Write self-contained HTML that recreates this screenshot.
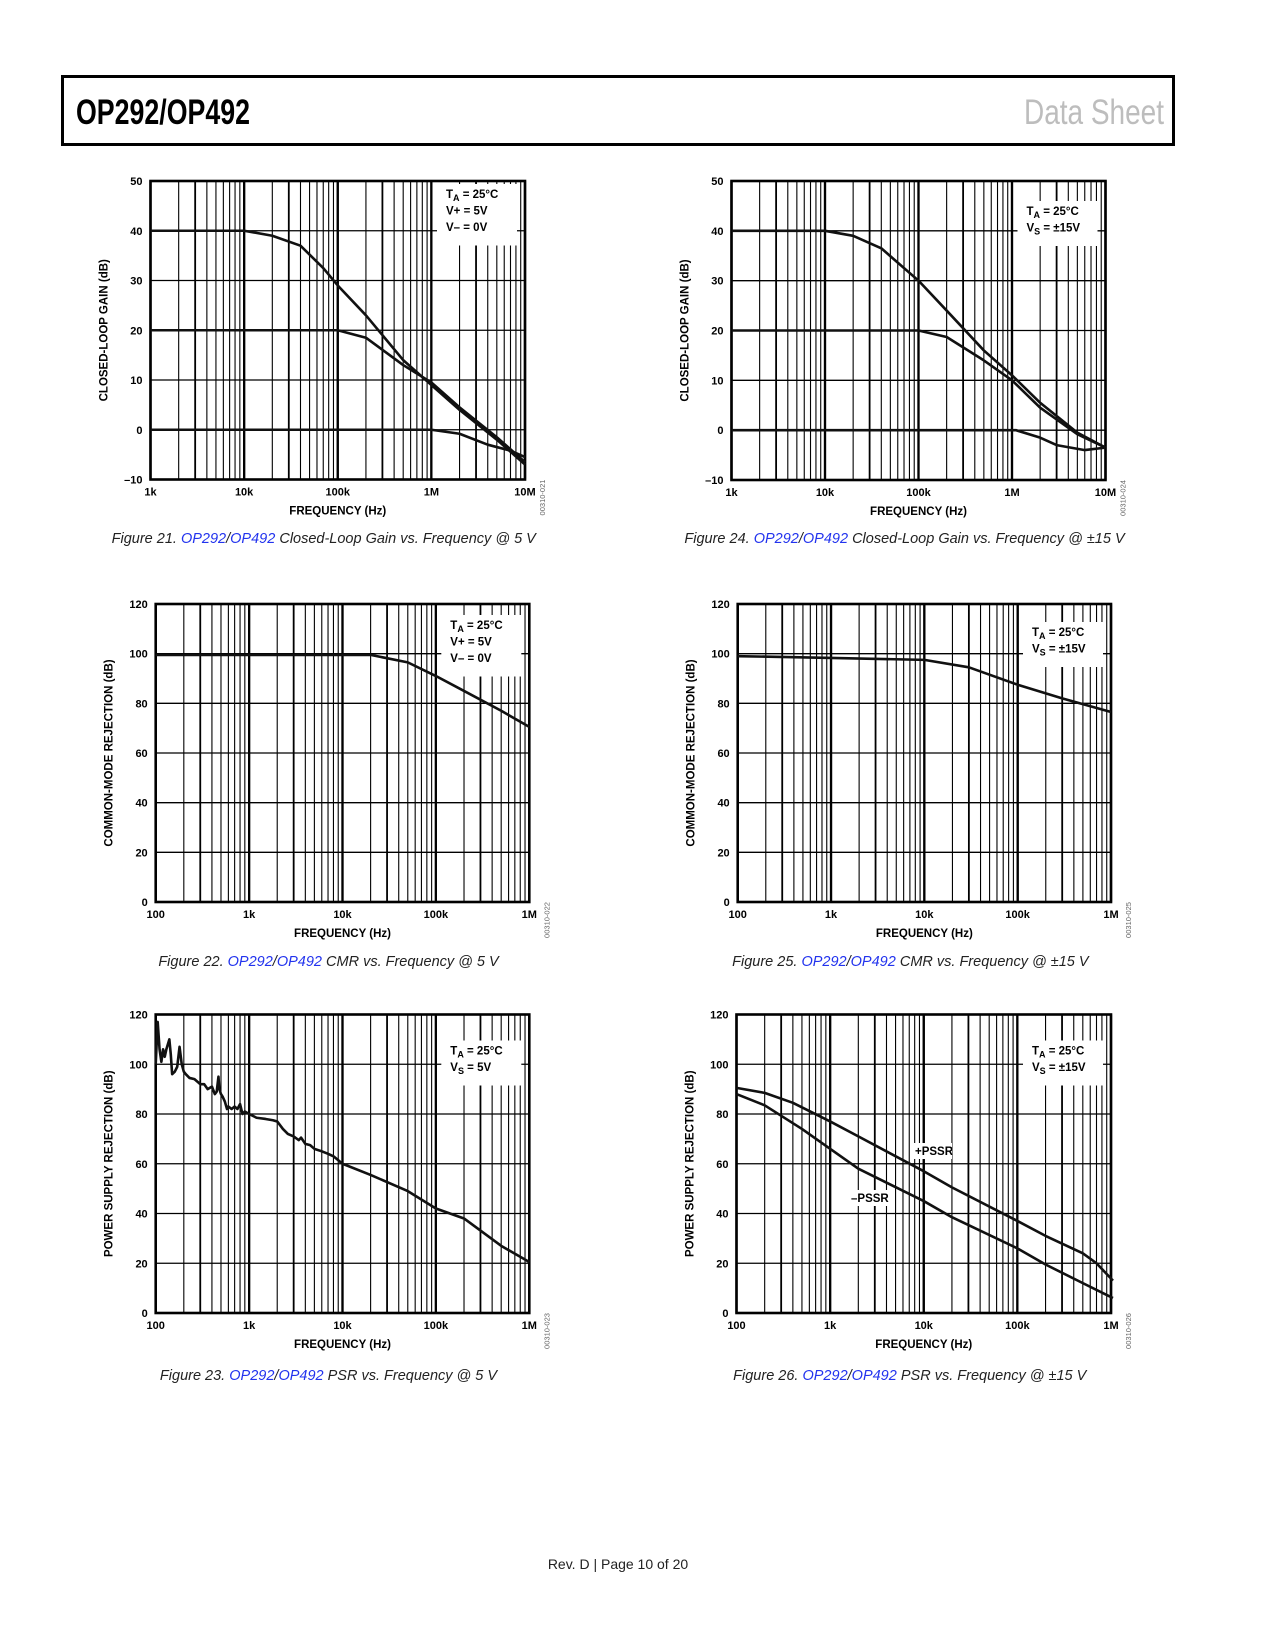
<!DOCTYPE html>
<html><head><meta charset="utf-8"><style>
html,body{margin:0;padding:0;background:#fff;}
body{width:1275px;height:1650px;position:relative;overflow:hidden;font-family:"Liberation Sans",sans-serif;}
svg{position:absolute;left:0;top:0;}
</style></head><body>
<svg id="page" width="1275" height="1650" viewBox="0 0 1275 1650" xmlns="http://www.w3.org/2000/svg">
<rect x="62.5" y="76.5" width="1111" height="68" fill="none" stroke="#000" stroke-width="3"/>
<text x="76" y="124" font-family="Liberation Sans Narrow, Liberation Sans, sans-serif" font-weight="bold" font-size="35" textLength="174" lengthAdjust="spacingAndGlyphs">OP292/OP492</text>
<text x="1164" y="124" text-anchor="end" font-family="Liberation Sans Narrow, Liberation Sans, sans-serif" font-size="35" fill="#bdbdbd" textLength="140" lengthAdjust="spacingAndGlyphs">Data Sheet</text>
<text x="618" y="1569" text-anchor="middle" font-size="14" fill="#222">Rev. D | Page 10 of 20</text>
</svg>
<script>
// ---- Figure 21 data (closed-loop gain @5V) ----
const fig21FreqA = [1e3, 1e4, 2e4, 4e4, 7e4, 1e5, 2e5, 5e5, 1e6, 2e6, 5e6, 1e7];
const fig21GainA = [40, 40, 39, 37, 32.5, 29, 23, 14, 9, 4, -2, -7];
const fig21FreqB = [1e3, 1e5, 2e5, 5e5, 1e6, 2e6, 5e6, 1e7];
const fig21GainB = [20, 20, 18.5, 13, 9.5, 4.5, -1.5, -6.5];
const fig21FreqC = [1e3, 1e6, 2e6, 4e6, 7e6, 1e7];
const fig21GainC = [0, 0, -0.8, -3, -4.2, -5.5];
// ---- Figure 24 data (closed-loop gain @±15V) ----
const fig24FreqA = [1e3, 1e4, 2e4, 4e4, 1e5, 2e5, 5e5, 1e6, 2e6, 5e6, 1e7];
const fig24GainA = [40, 40, 39, 36.5, 30, 24, 16, 11, 5.5, -0.5, -3.5];
const fig24FreqB = [1e3, 1e5, 2e5, 5e5, 1e6, 2e6, 5e6, 1e7];
const fig24GainB = [20, 20, 18.7, 14, 10, 4.5, -0.8, -3.5];
const fig24FreqC = [1e3, 1.1e6, 2e6, 3e6, 6e6, 1e7];
const fig24GainC = [0, 0, -1.5, -3, -4, -3.5];
// ---- Figure 22 data (CMR @5V) ----
const fig22Freq = [100, 2e4, 5e4, 1e5, 2e5, 5e5, 1e6];
const fig22Cmr = [99.5, 99.5, 96.5, 91, 85, 77, 70.5];
// ---- Figure 25 data (CMR @±15V) ----
const fig25Freq = [100, 1e3, 1e4, 3e4, 1e5, 3e5, 1e6];
const fig25Cmr = [99, 98.3, 97.5, 94.5, 87.5, 82, 76.5];
// ---- Figure 23 data (PSR @5V) ----
const fig23Freq = [100,105,110,115,120,125,130,140,145,150,160,170,180,190,200,210,230,260,300,330,360,400,430,450,470,480,490,500,520,550,580,600,650,700,750,800,850,900,1000,1200,1500,1800,2000,2300,2600,3000,3400,3600,4000,4500,5000,6000,7000,8000,10000,20000,50000,100000,200000,500000,1000000];
const fig23Psr = [100,117,106,101,106,103,106,110,104,96,97,99,107,100,97,96,94.5,94,92,92,90,91,88,89,95,90,89,88,87,85,82,83,82,83,82,84,80,81,80,78.5,78,77.5,77,74,72,71,69.5,70.5,68,67.5,66,65,64,63,60,55.5,49,42,38,27,20.5];
// ---- Figure 26 data (PSR @±15V) ----
const fig26FreqPlus = [100, 200, 400, 1e3, 2e3, 1e4, 2e4, 1e5, 2e5, 5e5, 7e5, 1.05e6];
const fig26Plus = [90.5, 88.5, 84.5, 77, 71, 57, 50.5, 37, 31, 24, 20, 13];
const fig26FreqMinus = [100, 200, 500, 1e3, 2e3, 1e4, 2e4, 1e5, 2e5, 5e5, 1.05e6];
const fig26Minus = [88, 83.5, 74, 66, 58, 45, 38.5, 26, 19.5, 12, 6];
// ---- tick labels ----
const gainTicks = [50, 40, 30, 20, 10, 0, -10];
const gainTickLabels = ["50", "40", "30", "20", "10", "0", "\u201310"];
const rejTicks = [120, 100, 80, 60, 40, 20, 0];
const rejTickLabels = ["120", "100", "80", "60", "40", "20", "0"];
const gainXTicks = [1e3, 1e4, 1e5, 1e6, 1e7];
const gainXLabels = ["1k", "10k", "100k", "1M", "10M"];
const rejXTicks = [100, 1e3, 1e4, 1e5, 1e6];
const rejXLabels = ["100", "1k", "10k", "100k", "1M"];

const NS = "http://www.w3.org/2000/svg";
const page = document.getElementById("page");
function el(tag, attrs, parent) {
  const e = document.createElementNS(NS, tag);
  for (const k in attrs) e.setAttribute(k, attrs[k]);
  (parent || page).appendChild(e);
  return e;
}

function chart(c) {
  const g = el("g", {});
  
  
  const lx0 = Math.log10(c.xmin), lx1 = Math.log10(c.xmax);
  const X = f => c.L + (Math.log10(f) - lx0) / (lx1 - lx0) * (c.R - c.L);
  const Y = v => c.B - (v - c.ymin) / (c.ymax - c.ymin) * (c.B - c.T);
  // vertical grid
  for (let d = lx0; d < lx1; d++) {
    for (let m = 1; m <= 10; m++) {
      const f = Math.pow(10, d) * m;
      const x = X(f);
      const w = (m === 1 || m === 10) ? 2.2 : (m === 3 ? 1.8 : 1.1);
      const ln = el("line", {x1: x, x2: x, y1: c.T, y2: c.B, stroke: "#000", "stroke-width": w}, g);
      
      
    }
  }
  // horizontal grid + y labels
  c.yTicks.forEach((v, i) => {
    const y = Y(v);
    const ln = el("line", {x1: c.L, x2: c.R, y1: y, y2: y, stroke: "#000", "stroke-width": 1.3}, g);
    
    
    const t = el("text", {x: c.L - 8, y: y + 4, "text-anchor": "end", "font-size": 11, "font-weight": "bold"}, g);
    t.textContent = c.yLabels[i];
    
    
  });
  c.xTicks.forEach((f, i) => {
    const t = el("text", {x: X(f), y: c.B + 16, "text-anchor": "middle", "font-size": 11, "font-weight": "bold"}, g);
    t.textContent = c.xLabels[i];
    
    
  });
  // legend box
  const lg = el("g", {}, g);
  
  
  const lx = c.R - 79, n = c.legend.length;
  el("rect", {x: lx - 9, y: c.T + c.legOff - 14, width: 80, height: n * 16.5 + 12, fill: "#fff"}, lg);
  c.legend.forEach((txt, i) => {
    const t = el("text", {x: lx, y: c.T + c.legOff + i * 16.5, "font-size": 11.5, "font-weight": "bold"}, lg);
    
    
    if (txt[1]) {
      const a = el("tspan", {}, t); a.textContent = txt[0];
      const s = el("tspan", {dy: 3, "font-size": 9}, t); s.textContent = txt[1];
      const b = el("tspan", {dy: -3}, t); b.textContent = txt[2];
    } else t.textContent = txt[0];
  });
  // frame
  const fr = el("rect", {x: c.L, y: c.T, width: c.R - c.L, height: c.B - c.T, fill: "none", stroke: "#000", "stroke-width": 2.6}, g);
  
  
  // series
  c.series.forEach(s => {
    const d = s.f.map((f, i) => (i ? "L" : "M") + X(f).toFixed(2) + "," + Y(s.v[i]).toFixed(2)).join("");
    const p = el("path", {d: d, fill: "none", stroke: "#111", "stroke-width": 2.6, "stroke-linejoin": "round"}, g);
    
    
  });
  // annotations
  (c.notes || []).forEach(nt => {
    const w = nt.t.length * 8;
    el("rect", {x: nt.x - 3, y: nt.y - 12, width: w, height: 16, fill: "#fff"}, g);
    const t = el("text", {x: nt.x, y: nt.y, "font-size": 11.5, "font-weight": "bold"}, g);
    t.textContent = nt.t;
    
    
  });
  // axis titles
  const xt = el("text", {x: (c.L + c.R) / 2, y: c.B + 35, "text-anchor": "middle", "font-size": 11.5, "font-weight": "bold"}, g);
  xt.textContent = "FREQUENCY (Hz)";
  
  
  const yx = c.L - 43, yy = (c.T + c.B) / 2;
  const yt = el("text", {x: yx, y: yy, "text-anchor": "middle", "font-size": 11.5, "font-weight": "bold", transform: `rotate(-90 ${yx} ${yy})`}, g);
  yt.textContent = c.ytitle;
  
  
  const cx = c.R + 20, cy = c.B + 18;
  const code = el("text", {x: cx, y: cy, "text-anchor": "middle", "font-size": 7.5, fill: "#666", transform: `rotate(-90 ${cx} ${cy})`}, g);
  code.textContent = c.code;
  
  
  // caption
  const cap = el("text", {x: (c.L + c.R) / 2 - 14, y: c.capY, "text-anchor": "middle", "font-size": 14.5, "font-style": "italic", fill: "#222"}, g);
  
  
  const p1 = el("tspan", {}, cap); p1.textContent = c.capNum + " ";
  const l1 = el("tspan", {fill: "#2233ee"}, cap); l1.textContent = "OP292";
  const p2 = el("tspan", {}, cap); p2.textContent = "/";
  const l2 = el("tspan", {fill: "#2233ee"}, cap); l2.textContent = "OP492";
  const p3 = el("tspan", {}, cap); p3.textContent = " " + c.capText;
}

const gainBase = {xmin: 1e3, xmax: 1e7, ymin: -10, ymax: 50, yTicks: gainTicks, yLabels: gainTickLabels, xTicks: gainXTicks, xLabels: gainXLabels, ytitle: "CLOSED-LOOP GAIN (dB)"};
const rejBase = {xmin: 100, xmax: 1e6, ymin: 0, ymax: 120, yTicks: rejTicks, yLabels: rejTickLabels, xTicks: rejXTicks, xLabels: rejXLabels};
const L5 = [["V+ = 5V"], ["V\u2013 = 0V"]];

chart(Object.assign({}, gainBase, {name: "chart-fig21", L: 150.5, R: 525, T: 181, B: 479.5, code: "00310-021", capY: 543, capNum: "Figure 21.", capText: "Closed-Loop Gain vs. Frequency @ 5 V",
  legOff: 17, legend: [["T", "A", " = 25\u00b0C"]].concat(L5),
  series: [{name: "gain-40db", f: fig21FreqA, v: fig21GainA}, {name: "gain-20db", f: fig21FreqB, v: fig21GainB}, {name: "gain-0db", f: fig21FreqC, v: fig21GainC}]}));
chart(Object.assign({}, gainBase, {name: "chart-fig24", L: 731.5, R: 1105.5, T: 181, B: 480, code: "00310-024", capY: 543, capNum: "Figure 24.", capText: "Closed-Loop Gain vs. Frequency @ \u00b115 V",
  legOff: 34, legend: [["T", "A", " = 25\u00b0C"], ["V", "S", " = \u00b115V"]],
  series: [{name: "gain-40db", f: fig24FreqA, v: fig24GainA}, {name: "gain-20db", f: fig24FreqB, v: fig24GainB}, {name: "gain-0db", f: fig24FreqC, v: fig24GainC}]}));
chart(Object.assign({}, rejBase, {name: "chart-fig22", L: 155.7, R: 529.3, T: 604, B: 902, ytitle: "COMMON-MODE REJECTION (dB)", code: "00310-022", capY: 966, capNum: "Figure 22.", capText: "CMR vs. Frequency @ 5 V",
  legOff: 25, legend: [["T", "A", " = 25\u00b0C"]].concat(L5),
  series: [{name: "cmr-line", f: fig22Freq, v: fig22Cmr}]}));
chart(Object.assign({}, rejBase, {name: "chart-fig25", L: 737.7, R: 1111, T: 604, B: 902, ytitle: "COMMON-MODE REJECTION (dB)", code: "00310-025", capY: 966, capNum: "Figure 25.", capText: "CMR vs. Frequency @ \u00b115 V",
  legOff: 32, legend: [["T", "A", " = 25\u00b0C"], ["V", "S", " = \u00b115V"]],
  series: [{name: "cmr-line", f: fig25Freq, v: fig25Cmr}]}));
chart(Object.assign({}, rejBase, {name: "chart-fig23", L: 155.7, R: 529.3, T: 1014.5, B: 1313, ytitle: "POWER SUPPLY REJECTION (dB)", code: "00310-023", capY: 1380, capNum: "Figure 23.", capText: "PSR vs. Frequency @ 5 V",
  legOff: 40, legend: [["T", "A", " = 25\u00b0C"], ["V", "S", " = 5V"]],
  series: [{name: "psr-line", f: fig23Freq, v: fig23Psr}]}));
chart(Object.assign({}, rejBase, {name: "chart-fig26", L: 736.5, R: 1111, T: 1014.5, B: 1313, ytitle: "POWER SUPPLY REJECTION (dB)", code: "00310-026", capY: 1380, capNum: "Figure 26.", capText: "PSR vs. Frequency @ \u00b115 V",
  legOff: 40, legend: [["T", "A", " = 25\u00b0C"], ["V", "S", " = \u00b115V"]],
  series: [{name: "plus-pssr-line", f: fig26FreqPlus, v: fig26Plus}, {name: "minus-pssr-line", f: fig26FreqMinus, v: fig26Minus}],
  notes: [{t: "+PSSR", x: 915, y: 1155}, {t: "\u2013PSSR", x: 851, y: 1202}]}));
</script>
</body></html>
